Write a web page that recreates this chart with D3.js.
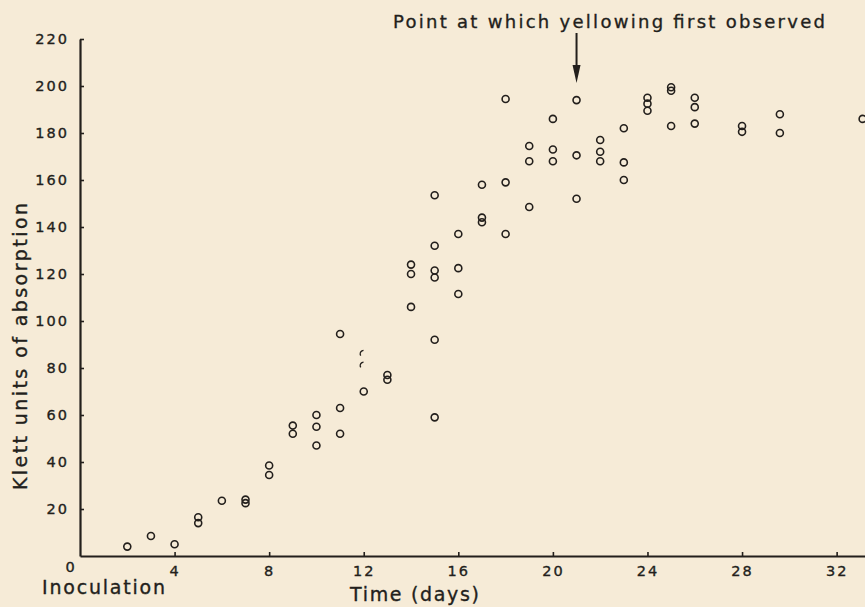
<!DOCTYPE html>
<html>
  <head>
    <meta charset="utf-8" />
    <style>
      body { margin: 0; background: #f6ebd7; }
      svg { display: block; }
      text { font-family: "DejaVu Sans", sans-serif; fill: #231f1c; stroke: #231f1c; stroke-width: 0.35px; }
    </style>
  </head>
  <body>

<svg id="graph"></svg>

<script src="https://d3js.org/d3.v7.min.js"></script>
<script>
  const WIDTH = 865;
  const HEIGHT = 607;
  const INK = '#231f1c';

  // days after inoculation and Klett readings
  const DAYS = [
    2, 3, 4, 5, 5, 6, 7, 7, 8, 8,
    9, 9, 10, 10, 10, 11, 11, 11, 12, 13, 13,
    14, 14, 14, 15, 15, 15, 15, 15, 15,
    16, 16, 16, 17, 17, 17, 18, 18, 18,
    19, 19, 19, 20, 20, 20, 21, 21, 21,
    22, 22, 22, 23, 23, 23, 24, 24, 24,
    25, 25, 25, 26, 26, 26, 28, 28, 29.6, 29.6, 33.1
  ];
  const KLETT = [
    4, 8.5, 5, 16.5, 14, 23.5, 24, 22.5, 38.5, 34.5,
    55.5, 52, 60, 55, 47, 94.5, 63, 52, 70, 77, 75,
    124, 120, 106, 153.5, 132, 121.5, 118.5, 92, 59,
    137, 122.5, 111.5, 158, 144, 142, 194.5, 159, 137,
    174.5, 168, 148.5, 186, 173, 168, 194, 170.5, 152,
    177, 172, 168, 182, 167.5, 160, 195, 192.5, 189.5,
    199.5, 198, 183, 195, 191, 184, 183, 180.5, 188, 180, 186
  ];
  // two damaged (half printed) circles at day 12
  const BROKEN_DAYS = [12, 12];
  const BROKEN_KLETT = [86, 81];

  const X_TICKS = [4, 8, 12, 16, 20, 24, 28, 32];
  const Y_TICKS = [20, 40, 60, 80, 100, 120, 140, 160, 180, 200, 220];
  const YELLOWING_DAY = 21;

  const svg = d3.select('#graph')
    .attr('width', WIDTH)
    .attr('height', HEIGHT);

  const x = d3.scaleLinear().domain([0, 33.2]).range([80, 865]);
  const y = d3.scaleLinear().domain([0, 220]).range([556, 39]);

  // axes, ticks point inward
  const xAxis = svg.append('g')
    .attr('transform', `translate(0,${y(0)})`)
    .call(d3.axisBottom(x).tickValues(X_TICKS).tickSizeInner(-4).tickSizeOuter(0).tickPadding(10));

  const yAxis = svg.append('g')
    .attr('transform', `translate(${x(0)},0)`)
    .call(d3.axisLeft(y).tickValues(Y_TICKS).tickSizeInner(-4).tickSizeOuter(0).tickPadding(11));

  [xAxis, yAxis].forEach(g => {
    g.select('.domain').attr('stroke', INK).attr('stroke-width', 2.2);
    g.selectAll('.tick line').attr('stroke', INK).attr('stroke-width', 1.6);
    g.selectAll('.tick text')
      .attr('fill', INK)
      .style('font-family', '"DejaVu Sans", sans-serif')
      .style('font-size', '14.5px')
      .style('letter-spacing', '2px');
  });

  // origin label
  svg.append('text')
    .attr('x', 70).attr('y', 572)
    .attr('text-anchor', 'middle')
    .style('font-size', '14.5px')
    .text('0');

  // data points
  svg.append('g')
    .selectAll('circle')
    .data(DAYS.map((d, i) => [d, KLETT[i]]))
    .join('circle')
    .attr('cx', d => x(d[0]))
    .attr('cy', d => y(d[1]))
    .attr('r', 3.5)
    .attr('fill', 'none')
    .attr('stroke', INK)
    .attr('stroke-width', 1.6);

  svg.append('g')
    .selectAll('circle')
    .data(BROKEN_DAYS.map((d, i) => [d, BROKEN_KLETT[i]]))
    .join('circle')
    .attr('cx', d => x(d[0]))
    .attr('cy', d => y(d[1]))
    .attr('r', 3.5)
    .attr('fill', 'none')
    .attr('stroke', INK)
    .attr('stroke-width', 1.4)
    .attr('stroke-dasharray', '7 15')
    .attr('transform', d => `rotate(150,${x(d[0])},${y(d[1])})`);

  // annotation arrow
  const ax = x(YELLOWING_DAY);
  svg.append('line')
    .attr('x1', ax).attr('x2', ax)
    .attr('y1', 33).attr('y2', 72)
    .attr('stroke', INK).attr('stroke-width', 2);
  svg.append('path')
    .attr('d', `M${ax - 4},65 L${ax + 4},65 L${ax},83 Z`)
    .attr('fill', INK);

  svg.append('text')
    .attr('x', 393).attr('y', 28)
    .attr('textLength', 432)
    .attr('lengthAdjust', 'spacing')
    .style('font-size', '18px')
    .text('Point at which yellowing first observed');

  // axis titles
  svg.append('text')
    .attr('transform', 'translate(27,490) rotate(-90)')
    .attr('textLength', 287)
    .attr('lengthAdjust', 'spacing')
    .style('font-size', '19px')
    .text('Klett units of absorption');

  svg.append('text')
    .attr('x', 42).attr('y', 594)
    .attr('textLength', 123)
    .attr('lengthAdjust', 'spacing')
    .style('font-size', '19px')
    .text('Inoculation');

  svg.append('text')
    .attr('x', 350).attr('y', 601)
    .attr('textLength', 129)
    .attr('lengthAdjust', 'spacing')
    .style('font-size', '19px')
    .text('Time (days)');
</script>
  </body>
</html>
